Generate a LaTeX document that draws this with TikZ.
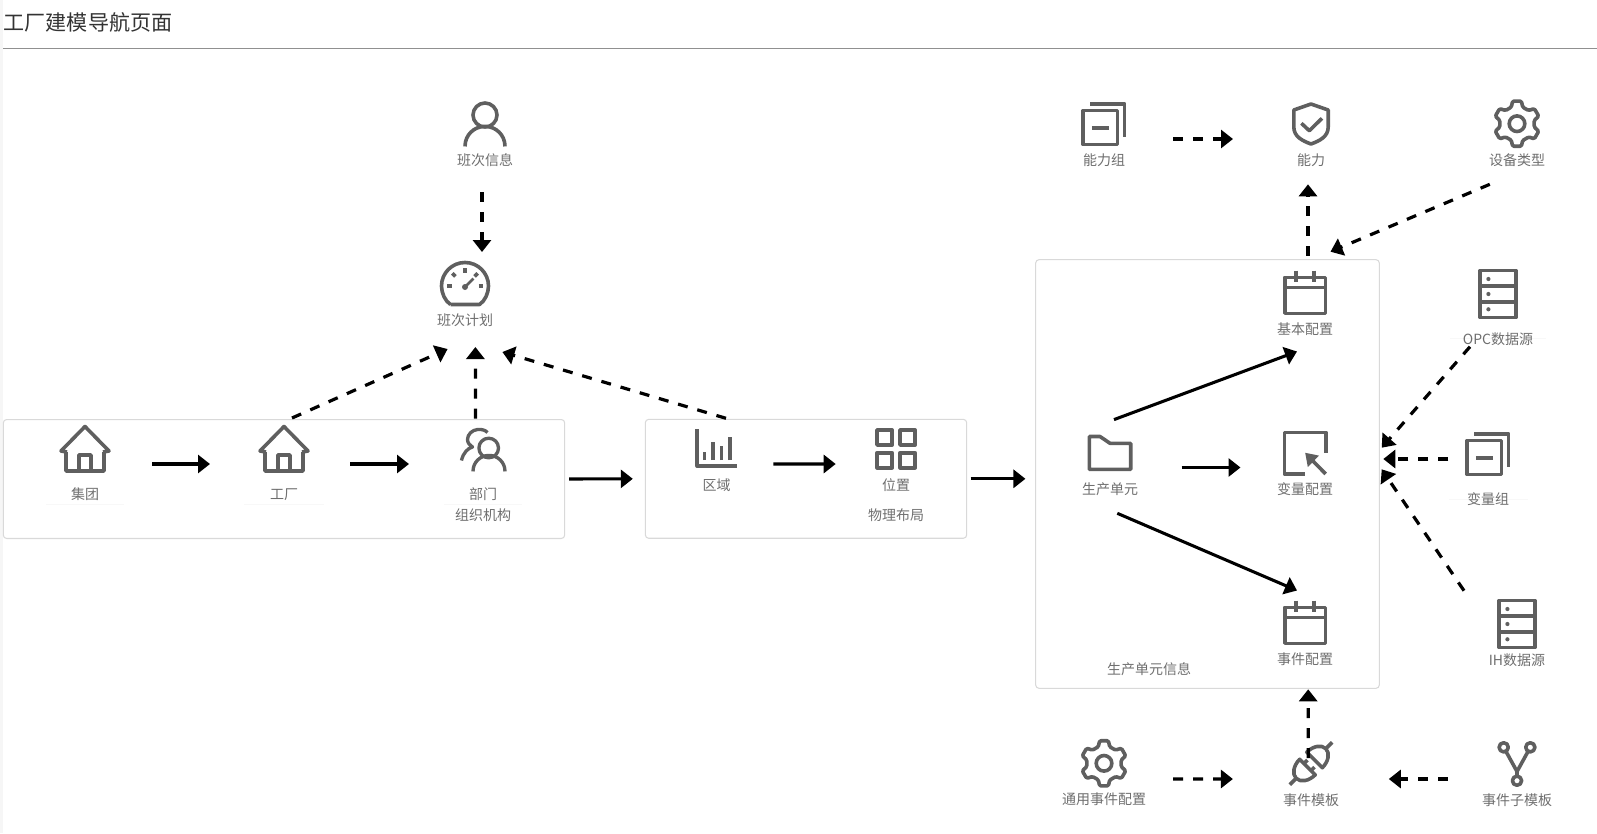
\documentclass[tikz,border=0pt]{standalone}
\usepackage{fontspec}
\setmainfont{Noto Sans CJK SC}
\usepackage{tikz}
\usetikzlibrary{arrows.meta,backgrounds}

\definecolor{iconcolor}{HTML}{5F5F5F}
\definecolor{textcolor}{HTML}{6E6E6E}
\definecolor{titlecolor}{HTML}{333333}
\definecolor{boxcolor}{HTML}{D9D9D9}
\definecolor{rulecolor}{HTML}{909090}
\definecolor{faintcolor}{HTML}{F8F8F8}
\definecolor{stripcolor}{HTML}{F6F6F6}

\tikzset{
  icon/.style={draw=iconcolor,line width=2.7pt,line join=round},
  house/.pic={
    \draw[icon] (-18,3) -- (-24,2) -- (0,-22.5) -- (24,2) -- (18,3);
    \draw[icon] (-19,3) -- (-19,22) -- (19,22) -- (19,3);
    \draw[icon] (-6,22) -- (-6,6) -- (6,6) -- (6,22);
  },
  person/.pic={
    \draw[icon] (0,-7) circle (12);
    \draw[icon] (-20,24.4) .. controls (-20,13) and (-11,4.4) .. (0,4.4) .. controls (11,4.4) and (20,13) .. (20,24.4);
  },
  people/.pic={
    \draw[icon,line width=2.5pt] (5.7,-1) circle (9.8);
    \draw[icon,line width=2.5pt] (-10,22.4) .. controls (-10,13) and (-2.5,6.4) .. (6,6.4) .. controls (14.5,6.4) and (22,13) .. (22,22.4);
    \draw[icon,line width=2.5pt] (4.5,-16.5) .. controls (2.5,-18.7) and (-1,-20) .. (-5.5,-19.5) .. controls (-11,-19) and (-15.5,-14.5) .. (-15.5,-9.5) .. controls (-15.5,-6) and (-13,-3.5) .. (-10.5,-2) .. controls (-15,-1) and (-20,4) .. (-21.5,11.5);
  },
  gauge/.pic={
    \draw[icon] (-14.5,18.5) -- (14.5,18.5) .. controls (20,15) and (23.5,7) .. (23.5,0) .. controls (23.5,-13) and (13,-23.5) .. (0,-23.5) .. controls (-13,-23.5) and (-23.5,-13) .. (-23.5,0) .. controls (-23.5,7) and (-20,15) .. (-14.5,18.5);
    \foreach \a in {-180,-135,-90,-45,0}
      \draw[icon] (\a:13.5) -- (\a:18);
    \draw[icon,line width=2pt] (0,1) -- (8.5,-7.5);
    \fill[iconcolor] (0,1) circle (3);
  },
  barchart/.pic={
    \draw[icon] (-19.3,-19.2) -- (-19.3,17.5) -- (20.7,17.5);
    \draw[icon] (-12,11.5) -- (-12,3.2);
    \draw[icon] (-3.7,11.5) -- (-3.7,-6.8);
    \draw[icon] (5,11.5) -- (5,-2.5);
    \draw[icon] (13.7,11.5) -- (13.7,-11.8);
  },
  tiles/.pic={
    \foreach \i in {-19,4}
      \foreach \j in {-18.8,3.9}
        \draw[icon] (\i,\j) rectangle ++(15.2,15);
  },
  folder/.pic={
    \draw[icon] (-20.7,-16.5) -- (-10,-16.5) -- (0,-9.7) -- (20.7,-9.7) -- (20.7,16.3) -- (-20.7,16.3) -- cycle;
  },
  calendar/.pic={
    \draw[icon] (-20.3,-15.7) rectangle (20.3,20.3);
    \draw[icon] (-20.3,-5.7) -- (20.3,-5.7);
    \draw[icon] (-9.2,-22.3) -- (-9.2,-11.3);
    \draw[icon] (9.2,-22.3) -- (9.2,-11.3);
  },
  cursorbox/.pic={
    \draw[icon] (20.7,-0.3) -- (20.7,-20.7) -- (-20.7,-20.7) -- (-20.7,21) -- (0,21);
    \draw[icon] (20.7,21) -- (7,7);
    \fill[iconcolor] (0.2,-0.2) -- (14,2.6) -- (2.8,14) -- cycle;
  },
  stack/.pic={
    \draw[icon] (-20.9,-13.5) rectangle (13.5,20.5);
    \draw[icon] (-14,-20.2) -- (20.5,-20.2) -- (20.5,13.3);
    \draw[icon] (-12.2,3.7) -- (5,3.7);
  },
  shield/.pic={
    \draw[icon] (0,-20) -- (17.2,-14) -- (17.2,3) .. controls (17.2,13) and (8,17) .. (0,20) .. controls (-8,17) and (-17.2,13) .. (-17.2,3) -- (-17.2,-14) -- cycle;
    \draw[icon] (-9.6,-0.7) -- (-1.7,6.7) -- (11,-5.7);
  },
  gear/.pic={
    \draw[icon,rounded corners=1pt] (60:17.5) foreach \a in {90,150,...,390} {
      -- (\a-19:17.5) -- (\a-11:23) -- (\a+11:23) -- (\a+19:17.5)} -- cycle;
    \draw[icon] (0,0) circle (7.8);
  },
  server/.pic={
    \draw[icon] (-18,-23.5) rectangle (18,23.5);
    \draw[icon] (-18,-8.3) -- (18,-8.3);
    \draw[icon] (-18,7.7) -- (18,7.7);
    \foreach \j in {-15,0,15.3}
      \fill[iconcolor] (-9.6,\j) circle (2.1);
  },
  plug/.pic={
    \begin{scope}[x={(.53pt,.53pt)},y={(-.53pt,.53pt)}]
      \draw[icon] (5,11) -- (5,-11) .. controls (14,-11) and (21,-6) .. (21,0) .. controls (21,6) and (14,11) .. (5,11) -- cycle;
      \draw[icon] (21,0) -- (30,0);
      \draw[icon] (-5,11) -- (-5,-11) .. controls (-14,-11) and (-21,-6) .. (-21,0) .. controls (-21,6) and (-14,11) .. (-5,11) -- cycle;
      \draw[icon] (-21,0) -- (-30,0);
      \draw[icon] (-5,5) -- (0,5);
      \draw[icon] (-5,-5) -- (0,-5);
    \end{scope}
  },
  branch/.pic={
    \draw[icon] (-13.3,-16.7) circle (4.6);
    \draw[icon] (13.3,-16.7) circle (4.6);
    \draw[icon] (0,16.7) circle (4.6);
    \draw[icon] (-11,-12.5) -- (0,7.5) -- (11,-12.5);
    \draw[icon] (0,7.5) -- (0,12);
  }
}

\begin{document}
\begin{tikzpicture}[x=.75pt,y=-.75pt,>={Triangle[length=9pt,width=13.5pt]},node distance=27.2pt]
  \tikzstyle{iconbox}=[minimum size=33pt,inner sep=0pt]
  \tikzstyle{caption}=[text=textcolor,inner sep=0pt,font=\fontsize{10.5pt}{12pt}\selectfont]
  \tikzstyle{groupbox}=[draw=boxcolor,line width=.8pt,rounded corners=2.5pt,inner sep=0pt]
  \tikzstyle{flow}=[->,line width=2.3pt]
  \tikzstyle{dashflow}=[->,line width=2.4pt,dash pattern=on 7.5pt off 7.5pt]
  \tikzstyle{faintline}=[draw=faintcolor,line width=.7pt]

  \useasboundingbox (0,0) rectangle (1597,833);
  \fill[stripcolor] (0,0) rectangle (3,833);

  \node[text=titlecolor,inner sep=0pt,anchor=west,font=\fontsize{15.8pt}{18pt}\selectfont] (title) at (3.5,22) {工厂建模导航页面};
  \draw[rulecolor,line width=.75pt] (3,48) -- (1597,48);

  \node[groupbox,minimum width=421pt,minimum height=89.2pt] (orgbox) at (284,479) {};
  \node[groupbox,minimum width=241pt,minimum height=89.2pt] (layoutbox) at (806,478.8) {};
  \node[groupbox,minimum width=257.7pt,minimum height=321.5pt] (unitbox) at (1207.5,474) {};

  \node[iconbox] (banci)  at (485,122) {};    \pic at (banci) {person};
  \node[iconbox] (plan)   at (465,286) {};    \pic at (plan) {gauge};
  \node[iconbox] (jituan) at (85,449) {};     \pic at (jituan) {house};
  \node[iconbox] (gongchang) at (284,449) {}; \pic at (gongchang) {house};
  \node[iconbox] (bumen)  at (483,449) {};    \pic at (bumen) {people};
  \node[iconbox] (quyu)   at (716.5,448.5) {};  \pic at (quyu) {barchart};
  \node[iconbox] (weizhi) at (896,448.8) {};  \pic at (weizhi) {tiles};
  \node[iconbox] (danyuan) at (1110,453) {};  \pic at (danyuan) {folder};
  \node[iconbox] (jiben)  at (1305,293) {};   \pic at (jiben) {calendar};
  \node[iconbox] (bianpz) at (1305,453) {};   \pic at (bianpz) {cursorbox};
  \node[iconbox] (shijian) at (1305,623) {};  \pic at (shijian) {calendar};
  \node[iconbox] (nenglizu) at (1104,124) {}; \pic at (nenglizu) {stack};
  \node[iconbox] (nengli) at (1311,124) {};   \pic at (nengli) {shield};
  \node[iconbox] (shebei) at (1517,123.7) {}; \pic at (shebei) {gear};
  \node[iconbox] (opc)    at (1498,294) {};   \pic at (opc) {server};
  \node[iconbox] (bianzu) at (1488,454) {};   \pic at (bianzu) {stack};
  \node[iconbox] (ih)     at (1517,624) {};   \pic at (ih) {server};
  \node[iconbox] (tongyong) at (1104,763.3) {}; \pic at (tongyong) {gear};
  \node[iconbox] (moban)  at (1311,763.5) {}; \pic at (moban) {plug};
  \node[iconbox] (zimoban) at (1517,764) {};  \pic at (zimoban) {branch};

  \node[caption] (bancilabel)  [below of=banci,node distance=28.5pt]  {班次信息};
  \node[caption] (planlabel)   [below of=plan,node distance=25.5pt]   {班次计划};
  \node[caption] (jituanlabel) [below of=jituan,node distance=34.2pt] {集团};
  \node[caption] (gongchanglabel) [below of=gongchang,node distance=34.2pt] {工厂};
  \node[caption] (bumenlabel)  [below of=bumen,node distance=34.2pt]  {部门};
  \node[caption] (orglabel)    [below of=bumenlabel,node distance=15.6pt] {组织机构};
  \node[caption] (quyulabel)   [below of=quyu]    {区域};
  \node[caption] (weizhilabel) [below of=weizhi]  {位置};
  \node[caption] (layoutlabel) [below of=weizhilabel,node distance=22.5pt] {物理布局};
  \node[caption] (danyuanlabel) [below of=danyuan] {生产单元};
  \node[caption] (jibenlabel)  [below of=jiben]   {基本配置};
  \node[caption] (bianpzlabel) [below of=bianpz]  {变量配置};
  \node[caption] (shijianlabel) [below of=shijian] {事件配置};
  \node[caption] (unitlabel)   at (1149,669.3)    {生产单元信息};
  \node[caption] (nenglizulabel) [below of=nenglizu] {能力组};
  \node[caption] (nenglilabel) [below of=nengli]  {能力};
  \node[caption] (shebeilabel) [below of=shebei]  {设备类型};
  \node[caption] (opclabel)    [below of=opc,node distance=33.7pt]    {OPC数据源};
  \node[caption] (bianzulabel) [below of=bianzu,node distance=34pt]   {变量组};
  \node[caption] (ihlabel)     [below of=ih]      {IH数据源};
  \node[caption] (tongyonglabel) [below of=tongyong] {通用事件配置};
  \node[caption] (mobanlabel)  [below of=moban]   {事件模板};
  \node[caption] (zimobanlabel) [below of=zimoban] {事件子模板};

  \begin{pgfonlayer}{background}
    \draw[faintline] ([shift={(-39,9.6)}]jituanlabel.center) -- ([shift={(39,9.6)}]jituanlabel.center);
    \draw[faintline] ([shift={(-40,9.6)}]gongchanglabel.center) -- ([shift={(40,9.6)}]gongchanglabel.center);
    \draw[faintline] ([shift={(-39,9.6)}]bumenlabel.center) -- ([shift={(39,9.6)}]bumenlabel.center);
    \draw[faintline] ([shift={(-48,0)}]opclabel.center) -- ([shift={(48,0)}]opclabel.center);
    \draw[faintline] ([shift={(-39.5,0)}]bianzulabel.center) -- ([shift={(39.5,0)}]bianzulabel.center);
  \end{pgfonlayer}

  \path ([shift={(67,15)}]jituan.center)     edge[flow] ([shift={(-74,15)}]gongchang.center)
        ([shift={(66,15)}]gongchang.center)  edge[flow] ([shift={(-74,15)}]bumen.center)
        ([shift={(56.8,15.5)}]quyu.center)   edge[flow] ([shift={(-60.3,15.2)}]weizhi.center)
        ([xshift=3pt]orgbox.east)            edge[flow] ([xshift=-9pt]layoutbox.west)
        ([xshift=2.5pt]layoutbox.east)       edge[flow] ([xshift=-7.3pt]unitbox.west |- layoutbox.east)
        ([shift={(4,-33.4)}]danyuan.center)  edge[flow] ([shift={(-8,58.5)}]jiben.center)
        ([shift={(71.5,14.5)}]danyuan.center) edge[flow] ([shift={(-64.5,14.5)}]bianpz.center)
        ([shift={(7.3,60.3)}]danyuan.center) edge[flow] ([shift={(-8,-32.5)}]shijian.center);

  \path ([shift={(-3,70)}]banci.center)      edge[dashflow] ([shift={(17,-34)}]plan.center)
        ([shift={(8,-31)}]gongchang.center)  edge[dashflow] ([shift={(-17.4,63)}]plan.center)
        ([shift={(-7.6,-30.4)}]bumen.center) edge[dashflow] ([shift={(10.4,61)}]plan.center)
        ([shift={(9.5,-30.2)}]quyu.center)   edge[dashflow] ([shift={(37.4,66)}]plan.center)
        ([shift={(69,15)}]nenglizu.center)   edge[dashflow] ([shift={(-78,15)}]nengli.center)
        ([shift={(3,-37.3)}]jiben.center)    edge[dashflow] ([shift={(-3,60.3)}]nengli.center)
        ([shift={(-27.2,60.6)}]shebei.center) edge[dashflow] ([shift={(123,-222.3)}]unitbox.center)
        ([shift={(-28,52.7)}]opc.center)     edge[dashflow] ([shift={(174.2,-26.3)}]unitbox.center)
        ([shift={(-39.7,5)}]bianzu.center)   edge[dashflow] ([shift={(175.8,-15)}]unitbox.center)
        ([shift={(-53,-33.3)}]ih.center)     edge[dashflow] ([shift={(174.2,-4.7)}]unitbox.center)
        ([shift={(-2.8,-5.5)}]moban.center)  edge[dashflow] ([shift={(3.2,66.3)}]shijian.center)
        ([shift={(69.2,15.7)}]tongyong.center) edge[dashflow] ([shift={(-78.1,15.5)}]moban.center)
        ([shift={(-69.2,15)}]zimoban.center) edge[dashflow] ([shift={(77.8,15.5)}]moban.center);
\end{tikzpicture}
\end{document}
